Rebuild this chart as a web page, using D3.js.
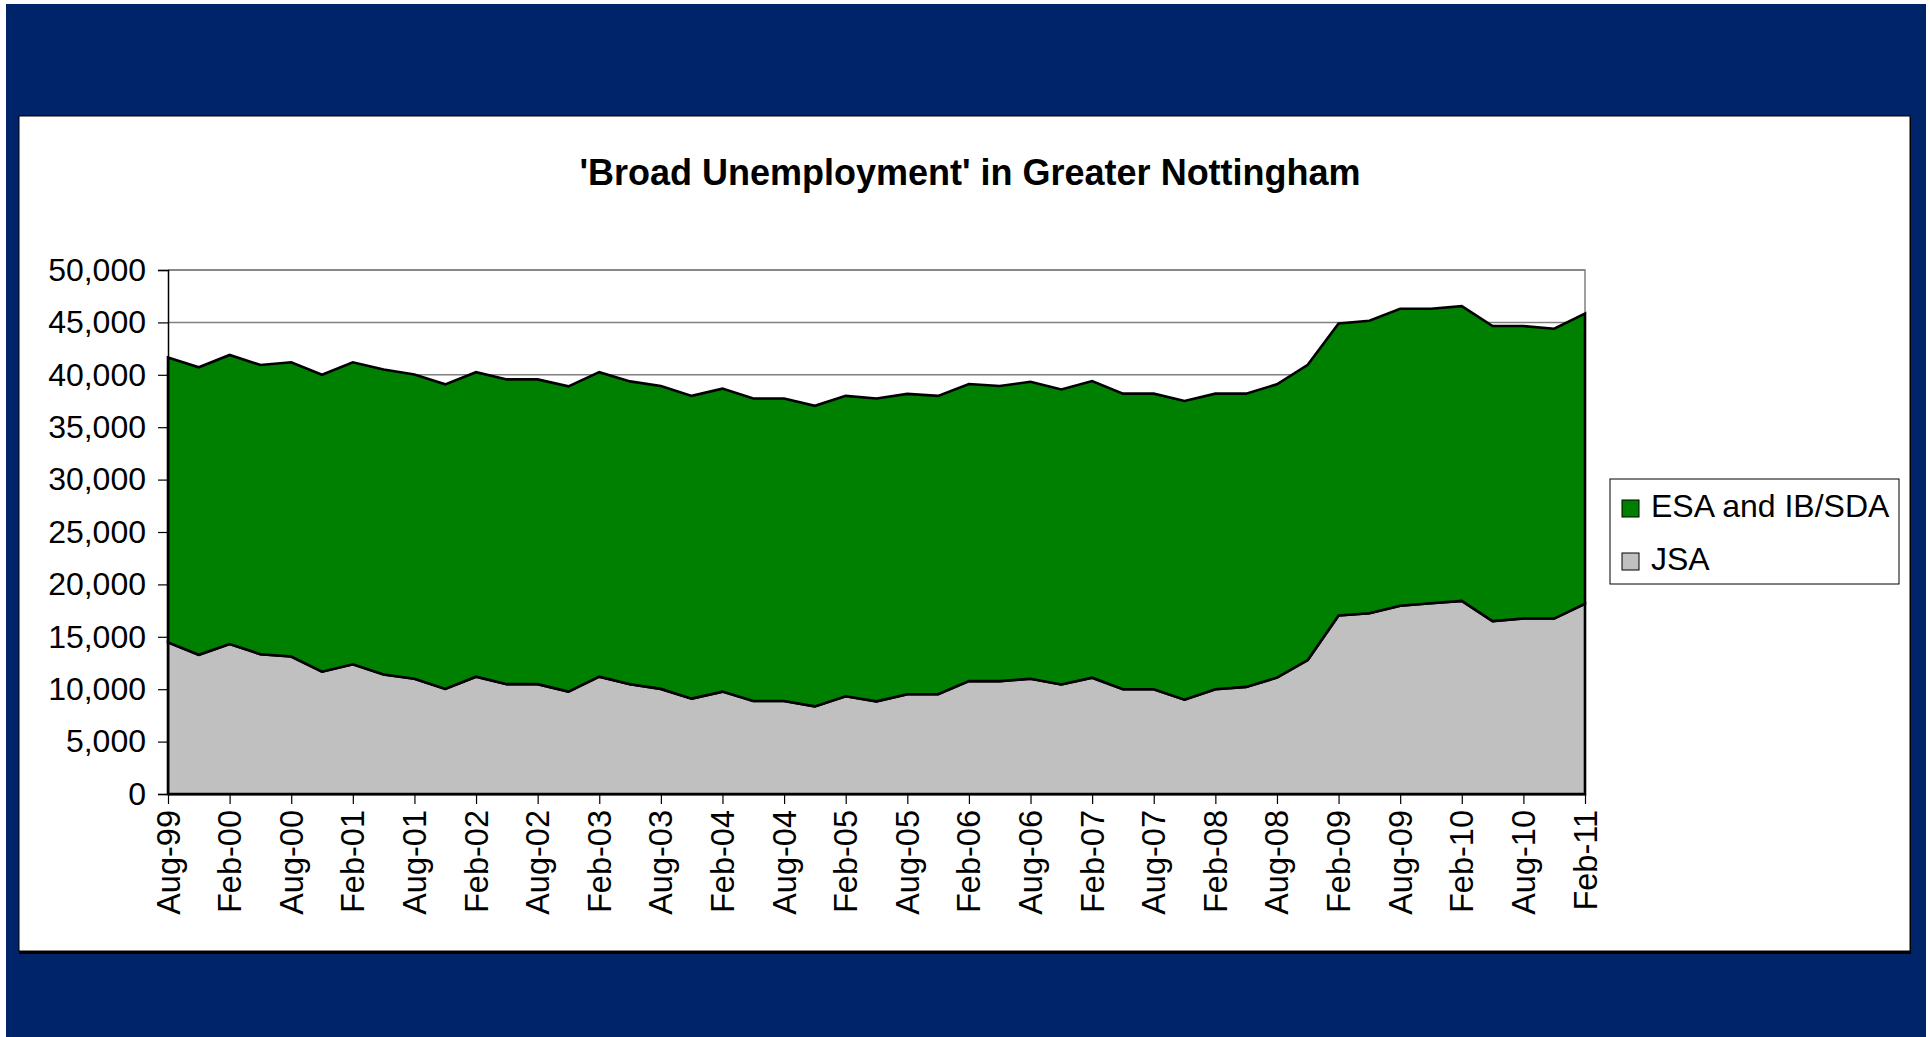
<!DOCTYPE html>
<html>
<head>
<meta charset="utf-8">
<script src="https://cdn.jsdelivr.net/npm/d3@7"></script>
<style>
  html, body { margin: 0; padding: 0; background: #ffffff; }
  svg { display: block; font-family: "Liberation Sans", Arial, sans-serif; }
</style>
</head>
<body>
<svg id="chart" width="1930" height="1037"></svg>
<script>
// Quarterly claimant counts, Greater Nottingham
const quarters = ["Aug-99","Nov-99","Feb-00","May-00","Aug-00","Nov-00","Feb-01","May-01","Aug-01","Nov-01",
  "Feb-02","May-02","Aug-02","Nov-02","Feb-03","May-03","Aug-03","Nov-03","Feb-04","May-04",
  "Aug-04","Nov-04","Feb-05","May-05","Aug-05","Nov-05","Feb-06","May-06","Aug-06","Nov-06",
  "Feb-07","May-07","Aug-07","Nov-07","Feb-08","May-08","Aug-08","Nov-08","Feb-09","May-09",
  "Aug-09","Nov-09","Feb-10","May-10","Aug-10","Nov-10","Feb-11"];

const jsa = [14470,13280,14310,13340,13120,11670,12380,11410,11000,10030,
  11190,10480,10480,9770,11200,10480,10030,9100,9770,8870,
  8870,8360,9320,8840,9520,9520,10770,10770,11000,10450,
  11100,10000,10000,9000,10000,10220,11100,12780,17030,17250,
  17960,18200,18430,16500,16740,16740,18150];

const esa = [27170,27440,27580,27600,28070,28330,28810,29090,29030,29060,
  29060,29080,29080,29130,29050,28890,28900,28890,28910,28870,
  28870,28680,28670,28900,28660,28470,28350,28160,28340,28150,
  28300,28200,28200,28500,28200,27980,28000,28170,27870,27900,
  28340,28100,28120,28150,27910,27660,27700];

const xTickLabels = ["Aug-99","Feb-00","Aug-00","Feb-01","Aug-01","Feb-02","Aug-02","Feb-03",
  "Aug-03","Feb-04","Aug-04","Feb-05","Aug-05","Feb-06","Aug-06","Feb-07","Aug-07","Feb-08",
  "Aug-08","Feb-09","Aug-09","Feb-10","Aug-10","Feb-11"];
const yTicks = [0,5000,10000,15000,20000,25000,30000,35000,40000,45000,50000];

const seriesKeys = ["jsa","esa"];
const seriesNames = { esa: "ESA and IB/SDA", jsa: "JSA" };
const seriesColors = { esa: "#008000", jsa: "#c0c0c0" };

const title = "'Broad Unemployment' in Greater Nottingham";

const svg = d3.select("#chart");

// frame: navy surround and white chart panel
svg.append("rect").attr("x", 6).attr("y", 4).attr("width", 1920).attr("height", 1033).attr("fill", "#002469");
svg.append("rect").attr("x", 19).attr("y", 118).attr("width", 1892).attr("height", 836).attr("fill", "#000000");
svg.append("rect").attr("x", 19).attr("y", 116).attr("width", 1891).attr("height", 835)
  .attr("fill", "#ffffff").attr("stroke", "#000000").attr("stroke-width", 1);

svg.append("text")
  .attr("x", 970).attr("y", 185)
  .attr("text-anchor", "middle")
  .attr("font-size", 36).attr("font-weight", "bold").attr("fill", "#000")
  .text(title);

const plot = { left: 168, right: 1585, top: 270, bottom: 794 };

const x = d3.scalePoint().domain(quarters).range([plot.left, plot.right]);
const y = d3.scaleLinear().domain([0, 50000]).range([plot.bottom, plot.top]);

const table = quarters.map((q, i) => ({ q, jsa: jsa[i], esa: esa[i] }));
const stacked = d3.stack().keys(seriesKeys)(table);

// gridlines
svg.append("g").selectAll("line").data(yTicks.filter(d => d > 0)).join("line")
  .attr("x1", plot.left).attr("x2", plot.right)
  .attr("y1", d => y(d)).attr("y2", d => y(d))
  .attr("stroke", "#808080").attr("stroke-width", 1.5);

// plot border (top / right)
svg.append("path")
  .attr("d", `M${plot.left},${plot.top}H${plot.right}V${plot.bottom}`)
  .attr("fill", "none").attr("stroke", "#808080").attr("stroke-width", 1.5);

const area = d3.area()
  .x(d => x(d.data.q))
  .y0(d => y(d[0]))
  .y1(d => y(d[1]));

svg.append("g").selectAll("path").data(stacked).join("path")
  .attr("d", area)
  .attr("fill", d => seriesColors[d.key])
  .attr("stroke", "#000").attr("stroke-width", 2.6).attr("stroke-linejoin", "miter");

// y axis
const yAxis = d3.axisLeft(y).tickValues(yTicks).tickSize(10).tickPadding(12)
  .tickFormat(d3.format(","));
const gy = svg.append("g").attr("transform", `translate(${plot.left},0)`).call(yAxis);
gy.select(".domain").attr("stroke", "#000").attr("stroke-width", 1.5);
gy.selectAll(".tick line").attr("stroke", "#000").attr("stroke-width", 1.2);
gy.selectAll(".tick text").attr("font-size", 32).attr("fill", "#000")
  .attr("font-family", "Liberation Sans, Arial, sans-serif");

// x axis
const xAxis = d3.axisBottom(x).tickValues(xTickLabels).tickSize(10).tickSizeOuter(0);
const gx = svg.append("g").attr("transform", `translate(0,${plot.bottom})`).call(xAxis);
gx.select(".domain").attr("stroke", "#000").attr("stroke-width", 2);
gx.selectAll(".tick line").attr("stroke", "#000").attr("stroke-width", 1.2);
gx.selectAll(".tick text")
  .attr("font-size", 32.5).attr("fill", "#000")
  .attr("font-family", "Liberation Sans, Arial, sans-serif")
  .attr("text-anchor", "end")
  .attr("dy", null)
  .attr("transform", "translate(11,16) rotate(-90)")
  .attr("x", 0).attr("y", 0);

// legend
const legend = svg.append("g");
legend.append("rect").attr("x", 1610).attr("y", 479).attr("width", 289).attr("height", 105)
  .attr("fill", "#fff").attr("stroke", "#000").attr("stroke-width", 1);
const legendKeys = ["esa", "jsa"];
const items = legend.selectAll("g.item").data(legendKeys).join("g").attr("class", "item")
  .attr("transform", (d, i) => `translate(1622,${500 + i * 53})`);
items.append("rect").attr("width", 17).attr("height", 17)
  .attr("fill", d => seriesColors[d]).attr("stroke", "#000").attr("stroke-width", 1);
items.append("text").attr("x", 29).attr("y", 17)
  .attr("font-size", 32).attr("fill", "#000")
  .text(d => seriesNames[d]);
</script>
</body>
</html>
